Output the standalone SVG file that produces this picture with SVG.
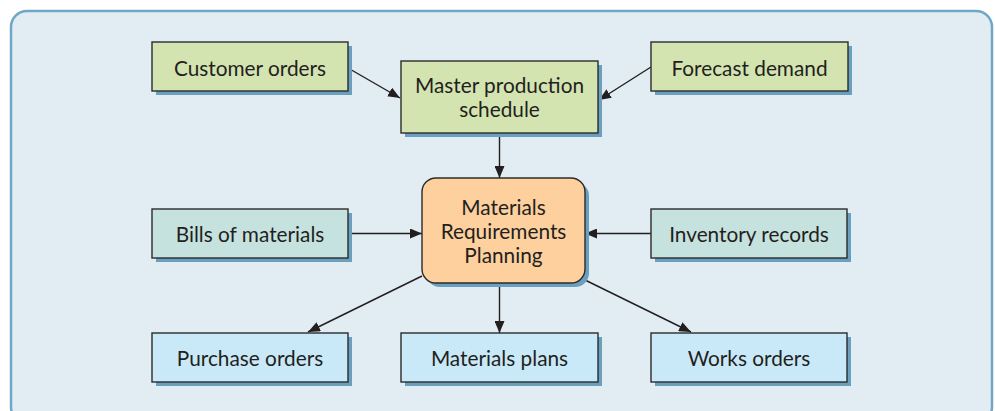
<svg xmlns="http://www.w3.org/2000/svg" width="995" height="411" viewBox="0 0 995 411">
<defs>
<style>
.box{stroke:#2b2b2b;stroke-width:1.4}
.sh{fill:#6a9fbe}
.g{fill:#d3e4b1}
.t{fill:#c5e2df}
.b{fill:#c9e9f8}
.o{fill:#fdd09d}
text{font-family:"Lato","Open Sans",sans-serif;font-size:20.8px;fill:#231f20;text-anchor:middle}
.c line{stroke:#231f20;stroke-width:1.4}
</style>
<marker id="ah" viewBox="0 0 12 10" refX="12" refY="5" markerWidth="12" markerHeight="10" markerUnits="userSpaceOnUse" orient="auto">
<path d="M0,0 L12,5 L0,10 Z" fill="#231f20"/>
</marker>
</defs>
<rect x="0" y="0" width="995" height="411" fill="#ffffff"/>
<rect x="11" y="11" width="981" height="412" rx="16" fill="#e1ecf3" stroke="#6fa8c4" stroke-width="2.5"/>

<g class="c">
<line x1="348" y1="68" x2="400" y2="98" marker-end="url(#ah)"/>
<line x1="651" y1="67" x2="599" y2="100" marker-end="url(#ah)"/>
<line x1="499.5" y1="133" x2="499.5" y2="178" marker-end="url(#ah)"/>
<line x1="348" y1="233.5" x2="422" y2="233.5" marker-end="url(#ah)"/>
<line x1="651" y1="233.5" x2="585" y2="233.5" marker-end="url(#ah)"/>
<line x1="422" y1="276" x2="308" y2="332" marker-end="url(#ah)"/>
<line x1="499.5" y1="283" x2="499.5" y2="333" marker-end="url(#ah)"/>
<line x1="583" y1="279" x2="691" y2="332" marker-end="url(#ah)"/>
</g>

<g id="customer-orders">
<rect class="sh" x="156" y="46" width="196" height="49"/>
<rect class="box g" x="152" y="42" width="196" height="49"/>
<text x="250" y="76">Customer orders</text>
</g>
<g id="master-production-schedule">
<rect class="sh" x="405" y="65" width="197" height="72"/>
<rect class="box g" x="401" y="61" width="197" height="72"/>
<text x="499.5" y="93">Master production</text>
<text x="499.5" y="117">schedule</text>
</g>
<g id="forecast-demand">
<rect class="sh" x="655" y="46" width="197" height="49"/>
<rect class="box g" x="651" y="42" width="197" height="49"/>
<text x="749.5" y="76">Forecast demand</text>
</g>
<g id="mrp">
<rect class="sh" x="426" y="182" width="163" height="105" rx="14"/>
<rect class="box o" x="422" y="178" width="163" height="105" rx="14"/>
<text x="503.5" y="215">Materials</text>
<text x="503.5" y="239">Requirements</text>
<text x="503.5" y="263">Planning</text>
</g>
<g id="bills-of-materials">
<rect class="sh" x="156" y="213" width="196" height="49"/>
<rect class="box t" x="152" y="209" width="196" height="49"/>
<text x="250" y="242">Bills of materials</text>
</g>
<g id="inventory-records">
<rect class="sh" x="655" y="213" width="196" height="49"/>
<rect class="box t" x="651" y="209" width="196" height="49"/>
<text x="749" y="242">Inventory records</text>
</g>
<g id="purchase-orders">
<rect class="sh" x="156" y="337" width="196" height="49"/>
<rect class="box b" x="152" y="333" width="196" height="49"/>
<text x="250" y="366">Purchase orders</text>
</g>
<g id="materials-plans">
<rect class="sh" x="405" y="337" width="197" height="49"/>
<rect class="box b" x="401" y="333" width="197" height="49"/>
<text x="499.5" y="366">Materials plans</text>
</g>
<g id="works-orders">
<rect class="sh" x="655" y="337" width="196" height="49"/>
<rect class="box b" x="651" y="333" width="196" height="49"/>
<text x="749" y="366">Works orders</text>
</g>
</svg>
